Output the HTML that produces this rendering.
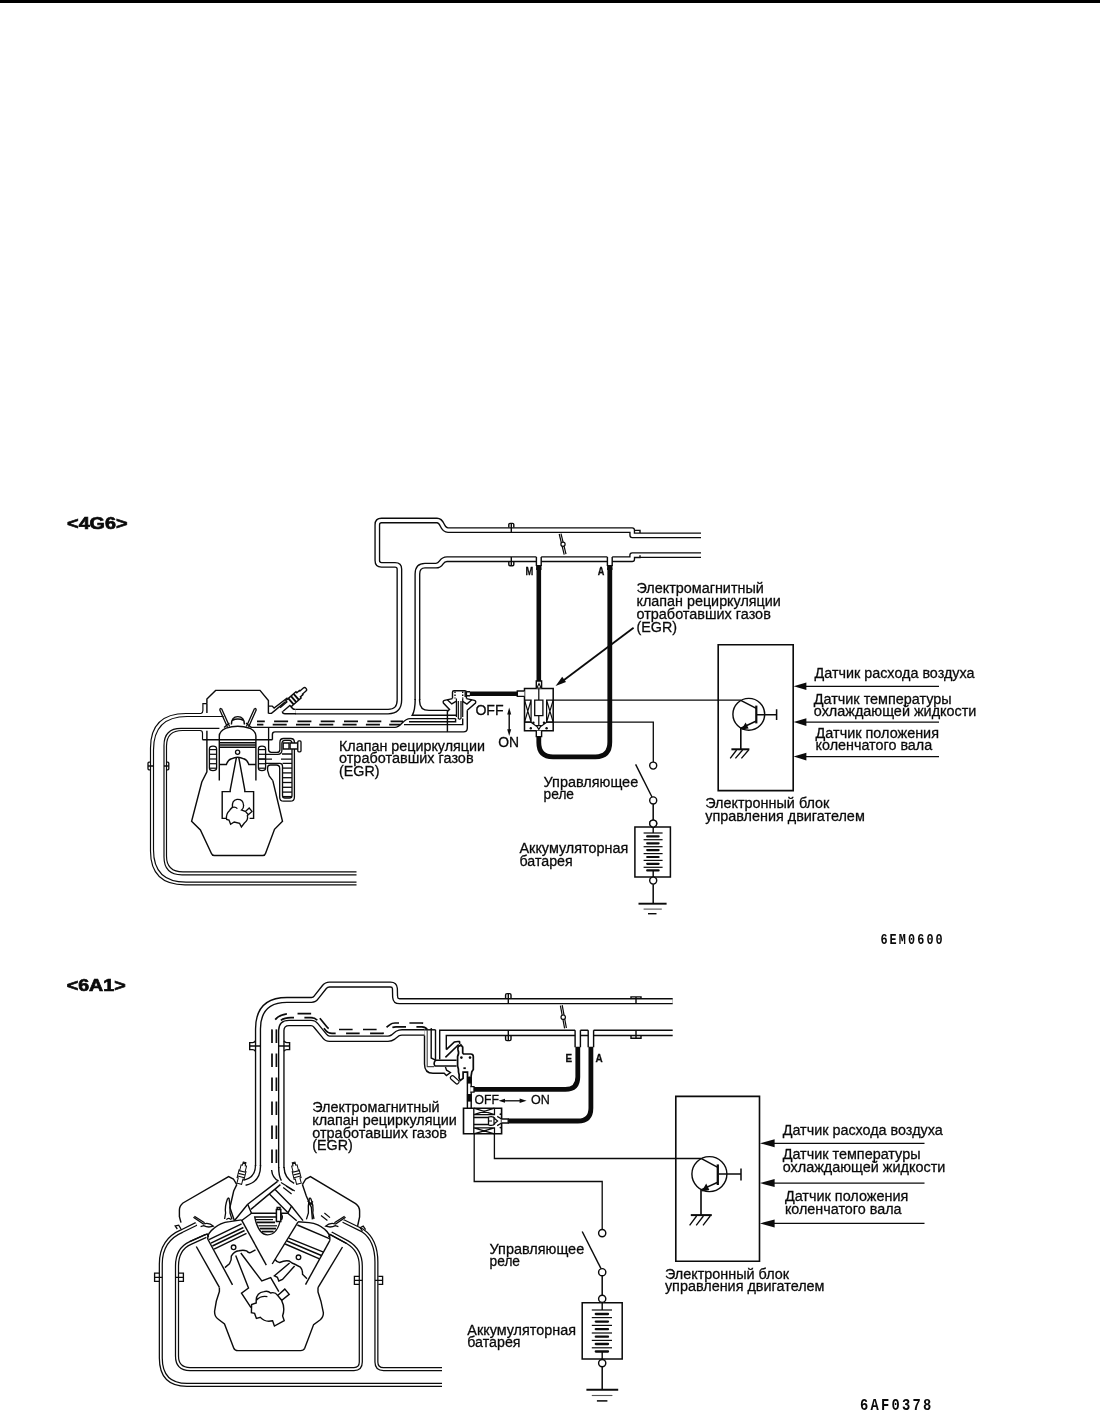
<!DOCTYPE html>
<html><head><meta charset="utf-8"><title>EGR system diagram</title>
<style>
html,body{margin:0;padding:0;background:#fff;}
body{width:1100px;height:1419px;overflow:hidden;font-family:"Liberation Sans",sans-serif;}
svg{display:block;position:absolute;left:0;top:0;will-change:transform;}
#topbar{position:absolute;left:0;top:0;width:1100px;height:3px;background:#000;}
</style></head><body>
<svg width="1100" height="1419" viewBox="0 0 1100 1419" stroke-linecap="butt">
<rect x="0" y="0" width="1100" height="1419" fill="#fff"/>
<g id="walls-black">
<path d="M 295.4,711.55 H 388 Q 399.4,711.6 399.4,700 V 569 Q 399.4,564.8 395,564.8 H 381.5 Q 377.3,564.8 377.3,560.5 V 524.7 Q 377.3,520.5 381.5,520.5 H 437 C 443.5,520.5 441,530.1 448,530.1 H 632.2 V 535.3 H 701" fill="none" stroke="#0b0b0b" stroke-width="5.85" stroke-linejoin="round"/>
<path d="M 417.4,700 V 574 Q 417.4,565.6 425,565.6 H 436 C 442.5,565.6 440,559.2 447,559.2 H 536.4 M 541.2,559.2 H 607.4 M 612.2,559.2 H 632.2 V 555.1 H 701" fill="none" stroke="#0b0b0b" stroke-width="5.95" stroke-linejoin="round"/>
<path d="M 258,1166 V 1029 Q 258,999.9 287,999.9 H 311.5 Q 314.6,999.9 316.2,997.4 L 324.4,987 Q 326.4,984.5 329.4,984.5 H 390.5 Q 394.6,984.5 394.9,988.5 L 395.1,997 Q 395.4,1001.2 399.5,1001.2 H 672.7" fill="none" stroke="#0b0b0b" stroke-width="6.25" stroke-linejoin="round"/>
<path d="M 281.3,1168 V 1030.6 Q 281.3,1023 289,1023 H 311 Q 314.2,1023 316,1025.6 L 324.6,1036 Q 326.6,1038.7 329.6,1038.7 H 388 Q 391,1038.7 393.2,1037 L 397.4,1033.6 Q 399.6,1032.4 402,1032.4 H 424.6" fill="none" stroke="#0b0b0b" stroke-width="6.65" stroke-linejoin="round"/>
<path d="M 196.3,1223.9 L 182,1231 Q 160.8,1240 160.8,1264 V 1358 Q 160.8,1384.9 187,1384.9 H 442" fill="none" stroke="#0b0b0b" stroke-width="4.15" stroke-linejoin="round"/>
<path d="M 205.8,1236 L 190.4,1243 Q 177,1249 177,1266 V 1356 Q 177,1369 190,1369 H 354 Q 360.8,1369 360.8,1362 V 1266 Q 360.8,1250 347.4,1242.2 L 331,1233.3" fill="none" stroke="#0b0b0b" stroke-width="4.25" stroke-linejoin="round"/>
<path d="M 343.2,1221 L 362.8,1230.6 Q 376.4,1240 376.4,1262 V 1362 Q 376.4,1369.1 383.6,1369.1 H 442" fill="none" stroke="#0b0b0b" stroke-width="4.15" stroke-linejoin="round"/>
</g>
<g id="walls-white">
<path d="M 295.4,711.55 H 388 Q 399.4,711.6 399.4,700 V 569 Q 399.4,564.8 395,564.8 H 381.5 Q 377.3,564.8 377.3,560.5 V 524.7 Q 377.3,520.5 381.5,520.5 H 437 C 443.5,520.5 441,530.1 448,530.1 H 632.2 V 535.3 H 701" fill="none" stroke="#fff" stroke-width="3.15" stroke-linejoin="round"/>
<path d="M 417.4,700 V 574 Q 417.4,565.6 425,565.6 H 436 C 442.5,565.6 440,559.2 447,559.2 H 536.4 M 541.2,559.2 H 607.4 M 612.2,559.2 H 632.2 V 555.1 H 701" fill="none" stroke="#fff" stroke-width="3.25" stroke-linejoin="round"/>
<path d="M 258,1166 V 1029 Q 258,999.9 287,999.9 H 311.5 Q 314.6,999.9 316.2,997.4 L 324.4,987 Q 326.4,984.5 329.4,984.5 H 390.5 Q 394.6,984.5 394.9,988.5 L 395.1,997 Q 395.4,1001.2 399.5,1001.2 H 672.7" fill="none" stroke="#fff" stroke-width="3.55" stroke-linejoin="round"/>
<path d="M 281.3,1168 V 1030.6 Q 281.3,1023 289,1023 H 311 Q 314.2,1023 316,1025.6 L 324.6,1036 Q 326.6,1038.7 329.6,1038.7 H 388 Q 391,1038.7 393.2,1037 L 397.4,1033.6 Q 399.6,1032.4 402,1032.4 H 424.6" fill="none" stroke="#fff" stroke-width="3.95" stroke-linejoin="round"/>
<path d="M 196.3,1223.9 L 182,1231 Q 160.8,1240 160.8,1264 V 1358 Q 160.8,1384.9 187,1384.9 H 442" fill="none" stroke="#fff" stroke-width="1.65" stroke-linejoin="round"/>
<path d="M 205.8,1236 L 190.4,1243 Q 177,1249 177,1266 V 1356 Q 177,1369 190,1369 H 354 Q 360.8,1369 360.8,1362 V 1266 Q 360.8,1250 347.4,1242.2 L 331,1233.3" fill="none" stroke="#fff" stroke-width="1.75" stroke-linejoin="round"/>
<path d="M 343.2,1221 L 362.8,1230.6 Q 376.4,1240 376.4,1262 V 1362 Q 376.4,1369.1 383.6,1369.1 H 442" fill="none" stroke="#fff" stroke-width="1.65" stroke-linejoin="round"/>
</g>
<g id="lines">
<text x="67.1" y="528.8" font-size="16.6" font-weight="bold" font-family="'Liberation Sans', sans-serif" textLength="60.4" lengthAdjust="spacingAndGlyphs" fill="#0a0a0a" stroke="#0a0a0a" stroke-width="0.7">&lt;4G6&gt;</text>
<path d="M 508.8,527.6 V 524.6 Q 508.8,523.4 510,523.4 H 512.6 Q 513.8,523.4 513.8,524.6 V 527.6" fill="none" stroke="#0b0b0b" stroke-width="1.42" />
<path d="M 511.3,523.6 V 532" fill="none" stroke="#0b0b0b" stroke-width="1.42" />
<path d="M 508.8,561.4 V 564.6 Q 508.8,565.8 510,565.8 H 512.6 Q 513.8,565.8 513.8,564.6 V 561.4" fill="none" stroke="#0b0b0b" stroke-width="1.42" />
<path d="M 511.3,557 V 565.6" fill="none" stroke="#0b0b0b" stroke-width="1.42" />
<path d="M 634.4,530.4 H 640 V 533" fill="none" stroke="#0b0b0b" stroke-width="1.42" />
<path d="M 634.4,557.6 H 640 V 555.2" fill="none" stroke="#0b0b0b" stroke-width="1.42" />
<path d="M 536.4,557 V 566 M 541.1999999999999,557 V 566" fill="none" stroke="#0b0b0b" stroke-width="1.42" />
<path d="M 536.1,565 H 541.5 V 570 H 536.1 Z" fill="#0b0b0b" stroke="none"/>
<path d="M 607.4,557 V 566 M 612.1999999999999,557 V 566" fill="none" stroke="#0b0b0b" stroke-width="1.42" />
<path d="M 607.1,565 H 612.5 V 570 H 607.1 Z" fill="#0b0b0b" stroke="none"/>
<path d="M 559.2,534 L 564.2,554.6 M 561,533.6 L 566,554.2" fill="none" stroke="#0b0b0b" stroke-width="1.22" />
<circle cx="563" cy="544.3" r="2.1" fill="#fff" stroke="#0b0b0b" stroke-width="1.22"/>
<text x="525.4" y="575.2" font-size="10.5" font-weight="bold" font-family="'Liberation Sans', sans-serif" textLength="7.8" lengthAdjust="spacingAndGlyphs" fill="#0a0a0a"  stroke="#0a0a0a" stroke-width="0.28">M</text>
<text x="597.8" y="575.2" font-size="10.5" font-weight="bold" font-family="'Liberation Sans', sans-serif" textLength="6.6" lengthAdjust="spacingAndGlyphs" fill="#0a0a0a"  stroke="#0a0a0a" stroke-width="0.28">A</text>
<path d="M 538.8,568 V 681" fill="none" stroke="#0b0b0b" stroke-width="4.6" />
<path d="M 609.8,568 V 742 Q 609.8,756.8 595.5,756.8 H 553 Q 538.8,756.8 538.8,742.5 V 736.5" fill="none" stroke="#0b0b0b" stroke-width="4.8" />
<path d="M 469.8,693.7 H 517.4" fill="none" stroke="#0b0b0b" stroke-width="4.5" />
<path d="M 419.6,699 V 701 Q 419.6,710.4 429,710.4 H 447.8" fill="none" stroke="#0b0b0b" stroke-width="1.42" />
<path d="M 415.2,699 C 415.2,708 414.2,712 412.2,715.3 H 456.2" fill="none" stroke="#0b0b0b" stroke-width="1.42" />
<path d="M 251,727.4 H 395 C 401,727.4 403,718.6 410,718.6 H 455.6" fill="none" stroke="#0b0b0b" stroke-width="1.42" />
<path d="M 404,724.6 H 462.7 V 718.6" fill="none" stroke="#0b0b0b" stroke-width="1.42" />
<path d="M 409,721.8 H 455.6 V 718.6" fill="none" stroke="#0b0b0b" stroke-width="1.42" />
<path d="M 257,721.4 H 403" fill="none" stroke="#0b0b0b" stroke-width="1.62" stroke-dasharray="14 9.3" stroke-dashoffset="6.2"/>
<path d="M 257,724.6 H 400" fill="none" stroke="#0b0b0b" stroke-width="1.62" stroke-dasharray="14 9.3" stroke-dashoffset="7.6"/>
<path d="M 272.4,739.8 V 734.4 Q 272.4,731.9 275,731.9 H 463.5 Q 467.3,731.9 467.3,728 V 710.2" fill="none" stroke="#0b0b0b" stroke-width="1.42" />
<path d="M 447.4,711 V 731.9" fill="none" stroke="#0b0b0b" stroke-width="1.42" />
<path d="M 452.5,698.6 V 692.2 Q 452.5,690.7 454,690.7 H 464.8 Q 466.4,690.7 466.4,692.2 V 698.6" fill="none" stroke="#0b0b0b" stroke-width="1.42" />
<path d="M 455,691.5 V 698.6 M 462.7,691.5 V 698.6" fill="none" stroke="#0b0b0b" stroke-width="1.42" stroke-dasharray="1.6 1.4"/>
<path d="M 465.2,691.5 V 697" fill="none" stroke="#0b0b0b" stroke-width="1.42" />
<path d="M 466.4,691.7 H 470 M 466.4,695.8 H 470" fill="none" stroke="#0b0b0b" stroke-width="1.42" />
<path d="M 452.5,698.6 L 444.5,700.4 Q 442.6,701 443.4,703 L 449.5,709.5 L 447.4,711.4" fill="none" stroke="#0b0b0b" stroke-width="1.42" />
<path d="M 466.4,698.6 L 474.4,700.4 Q 476.3,701 475.5,703 L 467.3,710.2" fill="none" stroke="#0b0b0b" stroke-width="1.42" />
<path d="M 447.3,699.8 L 451.8,703.9 L 456,701.4 M 462.7,701.4 L 466.9,704 L 471.8,699.8" fill="none" stroke="#0b0b0b" stroke-width="1.42" />
<path d="M 456.4,698.6 V 717 M 458.3,701 V 718.4 Q 459.6,720 461,718.4 V 701 M 462.7,698.6 V 717" fill="none" stroke="#0b0b0b" stroke-width="1.22" />
<path d="M 524.5,688.6 H 553.2 V 730.7 H 524.5 Z" fill="#fff" stroke="#0b0b0b" stroke-width="1.52" />
<path d="M 536.3,688.6 V 681 H 541.6 V 688.6" fill="#fff" stroke="#0b0b0b" stroke-width="1.42" />
<path d="M 536.9,688 L 539,683.6 L 541.1,688 Z" fill="#fff" stroke="#0b0b0b" stroke-width="1.12" />
<path d="M 524.5,691 H 517.3 V 696.4 H 524.5" fill="#fff" stroke="#0b0b0b" stroke-width="1.42" />
<path d="M 524.5,700.1 H 531.1 V 722.2 H 524.5 M 524.5,700.1 L 531.1,722.2 M 531.1,700.1 L 524.5,722.2" fill="none" stroke="#0b0b0b" stroke-width="1.22" />
<path d="M 553.2,700.1 H 546.6 V 722.2 H 553.2 M 553.2,700.1 L 546.6,722.2 M 546.6,700.1 L 553.2,722.2" fill="none" stroke="#0b0b0b" stroke-width="1.22" />
<path d="M 534.7,700.1 H 542.9 V 715.6 H 534.7 Z" fill="none" stroke="#0b0b0b" stroke-width="1.32" />
<path d="M 538.8,688.6 V 700.1 M 538.8,715.6 V 725.2" fill="none" stroke="#0b0b0b" stroke-width="1.22" />
<path d="M 524.5,722.2 H 531.1 M 546.6,722.2 H 553.2 M 531,722.2 L 536,726 H 541.6 L 546.6,722.2" fill="none" stroke="#0b0b0b" stroke-width="1.22" />
<path d="M 536.4,725.6 L 538.8,729.4 L 541.2,725.6 Z" fill="#fff" stroke="#0b0b0b" stroke-width="1.12" />
<circle cx="533.4" cy="722.8" r="1.2" fill="#0b0b0b" stroke="#0b0b0b" stroke-width="0"/>
<circle cx="544" cy="722.8" r="1.2" fill="#0b0b0b" stroke="#0b0b0b" stroke-width="0"/>
<circle cx="530.8" cy="728.2" r="1.2" fill="#0b0b0b" stroke="#0b0b0b" stroke-width="0"/>
<circle cx="546.6" cy="728.2" r="1.2" fill="#0b0b0b" stroke="#0b0b0b" stroke-width="0"/>
<path d="M 536.3,730.7 V 736.6 H 541.6 V 730.7" fill="#fff" stroke="#0b0b0b" stroke-width="1.42" />
<path d="M 633.6,627.8 L 560,683" fill="none" stroke="#0b0b0b" stroke-width="1.82" />
<path d="M 555.6,686 L 562.2,676.8 L 566,682 Z" fill="#0b0b0b" stroke="none"/>
<text x="475.4" y="714.6" font-size="14.2" font-weight="normal" font-family="'Liberation Sans', sans-serif" textLength="28.2" lengthAdjust="spacingAndGlyphs" fill="#0a0a0a"  stroke="#0a0a0a" stroke-width="0.28">OFF</text>
<text x="498.2" y="746.9" font-size="13.8" font-weight="normal" font-family="'Liberation Sans', sans-serif" textLength="20.8" lengthAdjust="spacingAndGlyphs" fill="#0a0a0a"  stroke="#0a0a0a" stroke-width="0.28">ON</text>
<path d="M 509.2,712 V 732" fill="none" stroke="#0b0b0b" stroke-width="1.42" />
<path d="M 509.2,707.6 L 507.2,714.4 H 511.2 Z" fill="#0b0b0b" stroke="none"/>
<path d="M 509.2,736 L 507.2,729.2 H 511.2 Z" fill="#0b0b0b" stroke="none"/>
<path d="M 553.2,700.2 H 741" fill="none" stroke="#0b0b0b" stroke-width="1.32" />
<path d="M 553.2,722.2 H 653.3 V 762" fill="none" stroke="#0b0b0b" stroke-width="1.32" />
<circle cx="653.2" cy="765.6" r="3.5" fill="#fff" stroke="#0b0b0b" stroke-width="1.42"/>
<path d="M 635.6,764.4 L 652,797" fill="none" stroke="#0b0b0b" stroke-width="1.42" />
<circle cx="653.2" cy="800.4" r="3.5" fill="#fff" stroke="#0b0b0b" stroke-width="1.42"/>
<path d="M 653.2,804 V 820" fill="none" stroke="#0b0b0b" stroke-width="1.52" />
<circle cx="653.2" cy="823.6" r="3.5" fill="#fff" stroke="#0b0b0b" stroke-width="1.42"/>
<path d="M 634.9,826.9 H 670.4 V 876.9 H 634.9 Z" fill="none" stroke="#0b0b0b" stroke-width="1.52" />
<circle cx="653.2" cy="823.6" r="3.5" fill="#fff" stroke="#0b0b0b" stroke-width="1.42"/>
<path d="M 653.2,827 V 833 M 653.2,870 V 877" fill="none" stroke="#0b0b0b" stroke-width="1.42" />
<path d="M 643.6,833 H 662.6" fill="none" stroke="#0b0b0b" stroke-width="1.22" />
<path d="M 643.6,839.7 H 662.6" fill="none" stroke="#0b0b0b" stroke-width="1.22" />
<path d="M 643.6,846.7 H 662.6" fill="none" stroke="#0b0b0b" stroke-width="1.22" />
<path d="M 643.6,853.6 H 662.6" fill="none" stroke="#0b0b0b" stroke-width="1.22" />
<path d="M 643.6,860.4 H 662.6" fill="none" stroke="#0b0b0b" stroke-width="1.22" />
<path d="M 643.6,867.3 H 662.6" fill="none" stroke="#0b0b0b" stroke-width="1.22" />
<path d="M 647.2,836.4 H 658.6" fill="none" stroke="#0b0b0b" stroke-width="2.2" stroke-linecap="round"/>
<path d="M 647.2,843.3 H 658.6" fill="none" stroke="#0b0b0b" stroke-width="2.2" stroke-linecap="round"/>
<path d="M 647.2,850.1 H 658.6" fill="none" stroke="#0b0b0b" stroke-width="2.2" stroke-linecap="round"/>
<path d="M 647.2,857 H 658.6" fill="none" stroke="#0b0b0b" stroke-width="2.2" stroke-linecap="round"/>
<path d="M 647.2,863.8 H 658.6" fill="none" stroke="#0b0b0b" stroke-width="2.2" stroke-linecap="round"/>
<path d="M 647.2,870.4 H 658.6" fill="none" stroke="#0b0b0b" stroke-width="2.2" stroke-linecap="round"/>
<circle cx="653.2" cy="880.6" r="3.5" fill="#fff" stroke="#0b0b0b" stroke-width="1.42"/>
<path d="M 653.2,884.2 V 903.6" fill="none" stroke="#0b0b0b" stroke-width="1.52" />
<path d="M 638.5,903.7 H 666.6" fill="none" stroke="#0b0b0b" stroke-width="1.92" />
<path d="M 643.6,909.1 H 661.8" fill="none" stroke="#555" stroke-width="1.12" />
<path d="M 648,913.7 H 656.5" fill="none" stroke="#0b0b0b" stroke-width="1.42" />
<path d="M 718.2,644.7 H 793.2 V 790.6 H 718.2 Z" fill="none" stroke="#0b0b0b" stroke-width="1.62" />
<circle cx="748.8" cy="714.3" r="15.9" fill="none" stroke="#0b0b0b" stroke-width="1.42"/>
<path d="M 740.8,700.4 L 756.3,708.4" fill="none" stroke="#0b0b0b" stroke-width="1.52" />
<path d="M 756.3,705.6 V 723.4" fill="none" stroke="#0b0b0b" stroke-width="2.2" />
<path d="M 756.3,721 L 740.8,728.2" fill="none" stroke="#0b0b0b" stroke-width="1.52" />
<path d="M 741.4,729.6 L 745.6,722.4 L 748.6,728.4 Z" fill="#0b0b0b" stroke="none"/>
<path d="M 757,714.8 H 776.6 M 776.6,709.2 V 719.9" fill="none" stroke="#0b0b0b" stroke-width="1.52" />
<path d="M 740.8,728 V 749.2" fill="none" stroke="#0b0b0b" stroke-width="1.62" />
<path d="M 731.4,749.3 H 749.4" fill="none" stroke="#0b0b0b" stroke-width="2.0" />
<path d="M 736.6,750 L 730.2,758.4 M 742.6,750 L 735.4,758.4 M 748.6,750 L 741.4,758.4" fill="none" stroke="#0b0b0b" stroke-width="1.32" />
<path d="M 800,686.3 H 939" fill="none" stroke="#0b0b0b" stroke-width="1.17" />
<path d="M 793.6,686.3 L 806.4,682.5 V 690.0999999999999 Z" fill="#0b0b0b" stroke="none"/>
<path d="M 800,722.1 H 939" fill="none" stroke="#0b0b0b" stroke-width="1.17" />
<path d="M 793.6,722.1 L 806.4,718.3000000000001 V 725.9 Z" fill="#0b0b0b" stroke="none"/>
<path d="M 800,756.6 H 939" fill="none" stroke="#0b0b0b" stroke-width="1.17" />
<path d="M 793.6,756.6 L 806.4,752.8000000000001 V 760.4 Z" fill="#0b0b0b" stroke="none"/>
<text x="636.5" y="592.9" font-size="14.35" font-weight="normal" font-family="'Liberation Sans', sans-serif" textLength="127.3" lengthAdjust="spacingAndGlyphs" fill="#0a0a0a"  stroke="#0a0a0a" stroke-width="0.28">Электромагнитный</text>
<text x="636.5" y="606.1" font-size="14.35" font-weight="normal" font-family="'Liberation Sans', sans-serif" textLength="144.3" lengthAdjust="spacingAndGlyphs" fill="#0a0a0a"  stroke="#0a0a0a" stroke-width="0.28">клапан рециркуляции</text>
<text x="636.5" y="619.2" font-size="14.35" font-weight="normal" font-family="'Liberation Sans', sans-serif" textLength="134.3" lengthAdjust="spacingAndGlyphs" fill="#0a0a0a"  stroke="#0a0a0a" stroke-width="0.28">отработавших газов</text>
<text x="636.5" y="632.3" font-size="14.35" font-weight="normal" font-family="'Liberation Sans', sans-serif" textLength="40.6" lengthAdjust="spacingAndGlyphs" fill="#0a0a0a"  stroke="#0a0a0a" stroke-width="0.28">(EGR)</text>
<text x="814.5" y="677.9" font-size="14.35" font-weight="normal" font-family="'Liberation Sans', sans-serif" textLength="160.0" lengthAdjust="spacingAndGlyphs" fill="#0a0a0a"  stroke="#0a0a0a" stroke-width="0.28">Датчик расхода воздуха</text>
<text x="813.8" y="703.6" font-size="14.35" font-weight="normal" font-family="'Liberation Sans', sans-serif" textLength="137.8" lengthAdjust="spacingAndGlyphs" fill="#0a0a0a"  stroke="#0a0a0a" stroke-width="0.28">Датчик температуры</text>
<text x="813.8" y="715.6" font-size="14.35" font-weight="normal" font-family="'Liberation Sans', sans-serif" textLength="162.6" lengthAdjust="spacingAndGlyphs" fill="#0a0a0a"  stroke="#0a0a0a" stroke-width="0.28">охлаждающей жидкости</text>
<text x="815.6" y="737.6" font-size="14.35" font-weight="normal" font-family="'Liberation Sans', sans-serif" textLength="123.4" lengthAdjust="spacingAndGlyphs" fill="#0a0a0a"  stroke="#0a0a0a" stroke-width="0.28">Датчик положения</text>
<text x="815.6" y="749.6" font-size="14.35" font-weight="normal" font-family="'Liberation Sans', sans-serif" textLength="116.6" lengthAdjust="spacingAndGlyphs" fill="#0a0a0a"  stroke="#0a0a0a" stroke-width="0.28">коленчатого вала</text>
<text x="339.0" y="750.7" font-size="14.35" font-weight="normal" font-family="'Liberation Sans', sans-serif" textLength="146.0" lengthAdjust="spacingAndGlyphs" fill="#0a0a0a"  stroke="#0a0a0a" stroke-width="0.28">Клапан рециркуляции</text>
<text x="339.0" y="763.4" font-size="14.35" font-weight="normal" font-family="'Liberation Sans', sans-serif" textLength="134.6" lengthAdjust="spacingAndGlyphs" fill="#0a0a0a"  stroke="#0a0a0a" stroke-width="0.28">отработавших газов</text>
<text x="339.0" y="776.1" font-size="14.35" font-weight="normal" font-family="'Liberation Sans', sans-serif" textLength="40.5" lengthAdjust="spacingAndGlyphs" fill="#0a0a0a"  stroke="#0a0a0a" stroke-width="0.28">(EGR)</text>
<text x="543.6" y="786.7" font-size="14.35" font-weight="normal" font-family="'Liberation Sans', sans-serif" textLength="94.6" lengthAdjust="spacingAndGlyphs" fill="#0a0a0a"  stroke="#0a0a0a" stroke-width="0.28">Управляющее</text>
<text x="543.6" y="799.0" font-size="14.35" font-weight="normal" font-family="'Liberation Sans', sans-serif" textLength="30.4" lengthAdjust="spacingAndGlyphs" fill="#0a0a0a"  stroke="#0a0a0a" stroke-width="0.28">реле</text>
<text x="519.5" y="853.1" font-size="14.35" font-weight="normal" font-family="'Liberation Sans', sans-serif" textLength="108.7" lengthAdjust="spacingAndGlyphs" fill="#0a0a0a"  stroke="#0a0a0a" stroke-width="0.28">Аккумуляторная</text>
<text x="519.5" y="865.5" font-size="14.35" font-weight="normal" font-family="'Liberation Sans', sans-serif" textLength="53.2" lengthAdjust="spacingAndGlyphs" fill="#0a0a0a"  stroke="#0a0a0a" stroke-width="0.28">батарея</text>
<text x="705.2" y="808.2" font-size="14.35" font-weight="normal" font-family="'Liberation Sans', sans-serif" textLength="124.2" lengthAdjust="spacingAndGlyphs" fill="#0a0a0a"  stroke="#0a0a0a" stroke-width="0.28">Электронный блок</text>
<text x="705.2" y="820.5" font-size="14.35" font-weight="normal" font-family="'Liberation Sans', sans-serif" textLength="159.6" lengthAdjust="spacingAndGlyphs" fill="#0a0a0a"  stroke="#0a0a0a" stroke-width="0.28">управления двигателем</text>
<text transform="translate(880.4,944) scale(0.85,1)" font-family="'Liberation Mono', monospace" font-weight="bold" font-size="13.9" letter-spacing="2.5" fill="#0a0a0a">6EM0600</text>
<path d="M 201,713.5 Q 202.9,713 202.9,710.6 V 703.6 H 206.9 M 201,713.5 H 186 Q 150.5,713.5 150.5,748 V 851 Q 150.5,884.8 185,884.8 H 356.5" fill="none" stroke="#0b0b0b" stroke-width="1.17" />
<path d="M 223.6,716.5 H 187 Q 153.5,716.5 153.5,750 V 850 Q 153.5,882.1 186,882.1 H 356.5" fill="none" stroke="#0b0b0b" stroke-width="1.17" />
<path d="M 219.4,728.4 H 181 Q 164,728.4 164,745.5 V 857 Q 164,874.8 182,874.8 H 356.5" fill="none" stroke="#0b0b0b" stroke-width="1.17" />
<path d="M 202.5,739.8 V 733 Q 202.5,730.5 200,730.5 H 182.6 Q 166.5,730.5 166.5,746 V 856 Q 166.5,871.9 183,871.9 H 356.5" fill="none" stroke="#0b0b0b" stroke-width="1.17" />
<path d="M 150.4,762.2 H 149 Q 148,762.2 148,763.2 V 768.8 Q 148,769.8 149,769.8 H 150.4" fill="none" stroke="#0b0b0b" stroke-width="1.32" />
<path d="M 166.6,762.2 H 167.8 Q 168.8,762.2 168.8,763.2 V 768.8 Q 168.8,769.8 167.8,769.8 H 166.6" fill="none" stroke="#0b0b0b" stroke-width="1.32" />
<path d="M 148,766 H 153.4 M 164,766 H 168.8" fill="none" stroke="#0b0b0b" stroke-width="1.32" />
<path d="M 206.9,703.5 V 699.1 L 215.6,690.4 H 260 L 268.4,700.5 V 713.4" fill="none" stroke="#0b0b0b" stroke-width="1.42" />
<path d="M 202.5,739.8 H 272.4" fill="none" stroke="#0b0b0b" stroke-width="1.42" />
<path d="M 206.9,703.5 V 713 M 206.9,730.8 V 771.8 L 201.8,782 L 191.6,821.3 L 200.4,830 L 211.3,853.3 Q 212,855.5 214.4,855.5 H 262.9 Q 265,855.5 265.6,853.3 L 274.5,829.3 L 282.5,821.3 L 272.8,780.7" fill="none" stroke="#0b0b0b" stroke-width="1.42" />
<path d="M 219.6,709.6 L 227.4,727 M 221.6,708.8 L 229.6,726.4" fill="none" stroke="#0b0b0b" stroke-width="1.32" />
<path d="M 256.4,709.6 L 248.6,727 M 254.4,708.8 L 246.4,726.4" fill="none" stroke="#0b0b0b" stroke-width="1.32" />
<path d="M 219.6,709.6 Q 220.4,708 221.6,708.8 M 256.4,709.6 Q 255.6,708 254.4,708.8" fill="none" stroke="#0b0b0b" stroke-width="1.32" />
<path d="M 231.4,724.4 Q 231.4,716.6 237.8,716.6 Q 244.4,716.6 244.4,724.4 M 232.4,720.4 Q 237.8,717.6 243.4,720.4" fill="none" stroke="#0b0b0b" stroke-width="1.42" />
<path d="M 219.3,780.4 V 736 Q 219.3,731.4 226,728.2 Q 237.6,724.4 249.8,728.2 Q 255.9,731.4 255.9,736 V 780.4" fill="none" stroke="#0b0b0b" stroke-width="1.42" />
<path d="M 224,727.4 L 229.4,723 M 251.4,727.4 L 246,723" fill="none" stroke="#0b0b0b" stroke-width="1.32" />
<path d="M 219.3,742.7 H 255.9 M 219.3,745 H 255.9 M 219.3,747.2 H 255.9" fill="none" stroke="#0b0b0b" stroke-width="1.42" />
<circle cx="237.6" cy="752.2" r="2.1" fill="#fff" stroke="#0b0b0b" stroke-width="1.32"/>
<path d="M 219.3,764.5 H 226.4 Q 228,759.8 231.4,758.8 Q 237.6,755.6 243.8,758.8 Q 247.2,759.8 248.8,764.5 H 255.9" fill="none" stroke="#0b0b0b" stroke-width="1.42" />
<path d="M 236.4,757.6 L 230.2,790 V 791.6 H 222.2 V 818.4 H 226.8 M 238.8,757.6 L 244.8,790 V 791.6 H 253.6 V 818.4 H 249.6" fill="none" stroke="#0b0b0b" stroke-width="1.42" />
<path d="M 232.4,807.4 Q 231.6,800.6 237,799.4 Q 243.4,799 243.6,805.4 Q 243.8,808.4 241.6,810 L 245.4,811.4 L 249.2,808 L 252,811.4 L 247.4,815.6 Q 248.4,820 244.4,823 L 241.4,827 L 239.6,823.4 L 234.2,822 L 230.6,824.2 L 229,820 L 226.6,819.4 Q 225.6,814 229.6,810.4 Q 231,808.4 232.4,807.4 Z M 232.4,807.4 Q 235.4,806.4 237.4,808.6 M 245.4,811.4 L 248.6,815" fill="none" stroke="#0b0b0b" stroke-width="1.32" />
<path d="M 209.4,749 Q 209.4,746.2 213.0,746.2 Q 216.6,746.2 216.6,749 V 768 Q 216.6,770.6 213.0,770.6 Q 209.4,770.6 209.4,768 Z" fill="none" stroke="#0b0b0b" stroke-width="1.32" />
<path d="M 209.4,749.6 H 216.6" fill="none" stroke="#0b0b0b" stroke-width="1.22" />
<path d="M 209.4,754.3 H 216.6" fill="none" stroke="#0b0b0b" stroke-width="1.22" />
<path d="M 209.4,759 H 216.6" fill="none" stroke="#0b0b0b" stroke-width="1.22" />
<path d="M 209.4,763.7 H 216.6" fill="none" stroke="#0b0b0b" stroke-width="1.22" />
<path d="M 209.4,768.2 H 216.6" fill="none" stroke="#0b0b0b" stroke-width="1.22" />
<path d="M 258.4,749 Q 258.4,746.2 262.0,746.2 Q 265.6,746.2 265.6,749 V 768 Q 265.6,770.6 262.0,770.6 Q 258.4,770.6 258.4,768 Z" fill="none" stroke="#0b0b0b" stroke-width="1.32" />
<path d="M 258.4,749.6 H 265.6" fill="none" stroke="#0b0b0b" stroke-width="1.22" />
<path d="M 258.4,754.3 H 265.6" fill="none" stroke="#0b0b0b" stroke-width="1.22" />
<path d="M 258.4,759 H 265.6" fill="none" stroke="#0b0b0b" stroke-width="1.22" />
<path d="M 258.4,763.7 H 265.6" fill="none" stroke="#0b0b0b" stroke-width="1.22" />
<path d="M 258.4,768.2 H 265.6" fill="none" stroke="#0b0b0b" stroke-width="1.22" />
<path d="M 268.4,706.1 H 272.2 L 274.1,708 L 287.5,697.8" fill="none" stroke="#0b0b0b" stroke-width="1.42" />
<path d="M 268.4,713.4 H 271.5 L 285.6,701.6" fill="none" stroke="#0b0b0b" stroke-width="1.42" />
<path d="M 282.4,711.2 Q 282.4,713.75 285,713.75 H 296" fill="none" stroke="#0b0b0b" stroke-width="1.42" />
<path d="M 291.3,705.6 Q 291.6,709.4 295.4,709.4" fill="none" stroke="#0b0b0b" stroke-width="1.42" />
<g transform="translate(281.6,709.6) rotate(-41)"><path d="M 0,-2.3 H 9 V -4 H 22.5 V -2.7 H 26 V -2 H 30.6 Q 32.4,-2 32.4,0 Q 32.4,2 30.6,2 H 26 V 2.7 H 22.5 V 4 H 9 V 2.3 H 0" fill="#fff" stroke="#0b0b0b" stroke-width="1.35"/><path d="M 12.4,-4 V 4 M 15.9,-4 V 4 M 19.4,-4 V 4" stroke="#0b0b0b" stroke-width="1.9" fill="none"/></g>
<path d="M 268.6,727.4 V 749.6 Q 268.6,752.4 271.4,752.4 H 276.9 Q 279.9,752.4 279.9,749.4 V 742.2 Q 279.9,738.5 283.6,738.5 H 290.6 Q 294.4,738.5 294.4,742.2 V 797.2 Q 294.4,801.2 290.4,801.2 H 283.6 Q 279.7,801.2 279.7,797.2 V 768.4 Q 279.7,765 276.4,765 H 270.4 Q 267.6,765 267.6,767.8 V 770.5 L 269.2,775.9 L 272.8,780.7" fill="none" stroke="#0b0b0b" stroke-width="1.32" />
<path d="M 265.6,754.4 H 277.6 Q 281.9,754.4 281.9,750 V 743.6 Q 281.9,740.4 285,740.4 H 289.2 Q 292,740.4 292,743.4 V 795.4 Q 292,798 289.4,798 H 285 Q 282.5,798 282.5,795.4 V 766 Q 282.5,763.3 279.6,763.3 H 265.6" fill="none" stroke="#0b0b0b" stroke-width="1.32" />
<path d="M 258.6,759.1 H 272 M 281,759.1 H 291.8 M 282,754 H 292 M 282.6,763.3 H 292" fill="none" stroke="#0b0b0b" stroke-width="1.32" />
<path d="M 282.6,768.1 H 291.9" fill="none" stroke="#0b0b0b" stroke-width="1.32" />
<path d="M 282.6,772.9 H 291.9" fill="none" stroke="#0b0b0b" stroke-width="1.32" />
<path d="M 282.6,777.7 H 291.9" fill="none" stroke="#0b0b0b" stroke-width="1.32" />
<path d="M 282.6,782.5 H 291.9" fill="none" stroke="#0b0b0b" stroke-width="1.32" />
<path d="M 282.6,787.3 H 291.9" fill="none" stroke="#0b0b0b" stroke-width="1.32" />
<path d="M 282.6,792.1 H 291.9" fill="none" stroke="#0b0b0b" stroke-width="1.32" />
<path d="M 282.6,796.6 H 291.9" fill="none" stroke="#0b0b0b" stroke-width="1.32" />
<path d="M 283.2,743 H 289 V 749 H 283.2 Z" fill="#fff" stroke="#0b0b0b" stroke-width="1.32" />
<path d="M 290.1,743 H 297.6 V 749 H 290.1 Z" fill="#fff" stroke="#0b0b0b" stroke-width="1.32" />
<path d="M 298.8,740.9 H 300 Q 301,740.9 301,742 V 750.8 Q 301,751.9 300,751.9 H 298.8 Q 297.8,751.9 297.8,750.8 V 742 Q 297.8,740.9 298.8,740.9 Z" fill="#fff" stroke="#0b0b0b" stroke-width="1.32" />
<text x="66.8" y="991.2" font-size="16.6" font-weight="bold" font-family="'Liberation Sans', sans-serif" textLength="58.8" lengthAdjust="spacingAndGlyphs" fill="#0a0a0a" stroke="#0a0a0a" stroke-width="0.7">&lt;6A1&gt;</text>
<path d="M 424.6,1029.8 H 435.5" fill="none" stroke="#0b0b0b" stroke-width="1.42" />
<path d="M 255.4,1040.9 Q 254.6,1042.6 252.6,1042.6 H 249.7 V 1049.6 H 252.6 Q 254.6,1049.6 255.2,1051.3 M 249.7,1046 H 260.4" fill="none" stroke="#0b0b0b" stroke-width="1.42" />
<path d="M 284,1040.9 Q 284.8,1042.6 286.8,1042.6 H 289.6 V 1049.6 H 286.8 Q 284.8,1049.6 284.2,1051.3 M 278.7,1046 H 289.6" fill="none" stroke="#0b0b0b" stroke-width="1.42" />
<path d="M 439.7,1059.6 V 1030.3 H 575.1 M 580.4,1030.3 H 588.2 M 593.6,1030.3 H 672.7" fill="none" stroke="#0b0b0b" stroke-width="1.42" />
<path d="M 446.3,1049.6 V 1035.5 H 575.1 M 580.4,1035.5 H 588.2 M 593.6,1035.5 H 672.7" fill="none" stroke="#0b0b0b" stroke-width="1.42" />
<path d="M 575.1,1030.3 V 1047.3 M 580.4,1030.3 V 1047.3 M 588.2,1030.3 V 1047.3 M 593.6,1030.3 V 1047.3" fill="none" stroke="#0b0b0b" stroke-width="1.42" />
<path d="M 505.6,998.6 V 995 Q 505.6,993.6 507,993.6 H 509.6 Q 511,993.6 511,995 V 998.6 M 508.3,994 V 1003.6" fill="none" stroke="#0b0b0b" stroke-width="1.42" />
<path d="M 505.6,1035.6 V 1039.2 Q 505.6,1040.6 507,1040.6 H 509.6 Q 511,1040.6 511,1039.2 V 1035.6 M 508.3,1030.4 V 1040.2" fill="none" stroke="#0b0b0b" stroke-width="1.42" />
<path d="M 631,998.7 V 996.9 H 641 V 998.7 M 636,996.9 V 1003.6" fill="none" stroke="#0b0b0b" stroke-width="1.42" />
<path d="M 631,1035.5 V 1038.2 H 641 V 1035.5 M 636,1030.3 V 1038.2" fill="none" stroke="#0b0b0b" stroke-width="1.42" />
<path d="M 560.4,1005.6 L 564.6,1028.4 M 562.2,1005.2 L 566.4,1028" fill="none" stroke="#0b0b0b" stroke-width="1.22" />
<circle cx="563.2" cy="1017.2" r="2.2" fill="#fff" stroke="#0b0b0b" stroke-width="1.22"/>
<text x="565.4" y="1061.8" font-size="11.6" font-weight="bold" font-family="'Liberation Sans', sans-serif" textLength="6.6" lengthAdjust="spacingAndGlyphs" fill="#0a0a0a"  stroke="#0a0a0a" stroke-width="0.28">E</text>
<text x="595.6" y="1061.8" font-size="11.6" font-weight="bold" font-family="'Liberation Sans', sans-serif" textLength="7.2" lengthAdjust="spacingAndGlyphs" fill="#0a0a0a"  stroke="#0a0a0a" stroke-width="0.28">A</text>
<path d="M 272,1168 V 1031 Q 272,1013.6 291,1013.6 H 312 Q 316,1013.6 318,1016 L 327,1027 Q 329,1029.5 333,1029.5 H 381 Q 384,1029.5 386,1027.6 L 390,1024.6 Q 392,1023 395,1023 H 421 Q 431.3,1023 431.3,1030" fill="none" stroke="#0b0b0b" stroke-width="1.72" stroke-dasharray="13.6 10.4" stroke-dashoffset="19.1"/>
<path d="M 276.4,1168 V 1031 Q 276.4,1017.7 291,1017.7 H 311 Q 315,1017.7 317,1020 L 326,1030.8 Q 328,1033.3 332,1033.3 H 382 Q 385,1033.3 387,1031.6 L 391,1028.4 Q 393,1026.8 396,1026.8 H 422 Q 426,1027 427.4,1029.8" fill="none" stroke="#0b0b0b" stroke-width="1.72" stroke-dasharray="13.6 10.4" stroke-dashoffset="19.1"/>
<path d="M 424.5,1035.5 V 1064 Q 424.5,1073.3 433,1073.3 H 444.2 L 446.4,1075.5 L 450.4,1072.5 L 446.6,1070.2 L 445.4,1067" fill="none" stroke="#0b0b0b" stroke-width="1.42" />
<path d="M 427.2,1029.8 V 1066.6 H 434" fill="none" stroke="#444" stroke-width="1.12" />
<path d="M 431.2,1029.8 V 1058 L 435.5,1060.2 V 1029.8" fill="none" stroke="#0b0b0b" stroke-width="1.42" />
<path d="M 435.5,1060.2 H 456.6 M 456.6,1066 H 435 Q 433,1063.2 435.5,1060.2" fill="none" stroke="#0b0b0b" stroke-width="1.62" />
<path d="M 446.3,1049.6 L 454.4,1042 Q 457,1041.2 459.5,1041.6 L 459.8,1043.8 M 445.4,1057.3 L 458.7,1044.5" fill="none" stroke="#0b0b0b" stroke-width="1.62" />
<path d="M 457.6,1066 V 1056.5 Q 459.4,1053 458,1050 Q 457.6,1047.4 458.4,1046.4 L 460.9,1044.9 L 462.7,1047.1 V 1052.9 L 463.5,1054 H 470.6 Q 473.3,1054 473.3,1056.6 V 1069.6 L 471.8,1071.8 L 471.1,1076.2 M 467.5,1076.2 V 1072.2 H 463.1 V 1078.4 L 460.2,1080.5 Q 458.4,1078 459.2,1075 Q 458.2,1072 458.4,1069 L 457.6,1066" fill="#fff" stroke="#0b0b0b" stroke-width="1.72" />
<circle cx="461.4" cy="1057.6" r="1.3" fill="#0b0b0b" stroke="#0b0b0b" stroke-width="0"/>
<circle cx="470" cy="1057.6" r="1.3" fill="#0b0b0b" stroke="#0b0b0b" stroke-width="0"/>
<path d="M 463.4,1068.2 H 465.8" fill="none" stroke="#0b0b0b" stroke-width="1.8" />
<g transform="translate(454.7,1079.8) rotate(42)"><rect x="-5" y="-2" width="10" height="4" rx="1.6" fill="#fff" stroke="#0b0b0b" stroke-width="1.2"/></g>
<path d="M 467.4,1076 V 1108.2 M 471.2,1076 V 1108.2" fill="none" stroke="#0b0b0b" stroke-width="1.42" />
<path d="M 466.9,1076.5 H 471.7 V 1083.6 H 466.9 Z" fill="#0b0b0b" stroke="none"/>
<path d="M 466.9,1094 H 471.7 V 1101.6 H 466.9 Z" fill="#0b0b0b" stroke="none"/>
<path d="M 577.8,1046.8 V 1077 Q 577.8,1089.4 565.4,1089.4 H 472" fill="none" stroke="#0b0b0b" stroke-width="4.8" />
<path d="M 590.9,1046.8 V 1108 Q 590.9,1121 578,1121 H 508" fill="none" stroke="#0b0b0b" stroke-width="4.8" />
<path d="M 470.4,1086.6 H 474 V 1092.2 H 470.4" fill="#fff" stroke="#0b0b0b" stroke-width="1.32" />
<path d="M 463.5,1108.2 H 501.6 V 1133.8 H 463.5 Z" fill="#fff" stroke="#0b0b0b" stroke-width="1.62" />
<path d="M 473.8,1108.2 V 1133.8" fill="none" stroke="#0b0b0b" stroke-width="1.32" />
<path d="M 473.8,1114.7 H 494.5 V 1108.2 M 473.8,1108.2 L 494.5,1114.7 M 494.5,1108.2 L 473.8,1114.7" fill="none" stroke="#0b0b0b" stroke-width="1.22" />
<path d="M 473.8,1127.8 H 494.5 V 1133.8 M 473.8,1127.8 L 494.5,1133.8 M 494.5,1127.8 L 473.8,1133.8" fill="none" stroke="#0b0b0b" stroke-width="1.22" />
<path d="M 473.8,1117.5 H 488.5 V 1124.5 H 473.8" fill="none" stroke="#0b0b0b" stroke-width="1.32" />
<path d="M 488.5,1117 Q 493,1115.6 495,1118.4 M 488.5,1125 Q 493,1126.4 495,1123.6 M 488.5,1121 H 492" fill="none" stroke="#0b0b0b" stroke-width="1.22" />
<path d="M 494,1118 L 497.6,1121 L 494,1124 Z" fill="#fff" stroke="#0b0b0b" stroke-width="1.22" />
<path d="M 497.2,1116.4 L 501.6,1119 M 497.2,1125.6 L 501.6,1123" fill="none" stroke="#0b0b0b" stroke-width="1.22" />
<circle cx="500.4" cy="1114.2" r="0.9" fill="#0b0b0b" stroke="#0b0b0b" stroke-width="0"/>
<circle cx="500.4" cy="1127.6" r="0.9" fill="#0b0b0b" stroke="#0b0b0b" stroke-width="0"/>
<path d="M 501.6,1119 H 508.2 V 1123 H 501.6" fill="#fff" stroke="#0b0b0b" stroke-width="1.32" />
<text x="474.6" y="1103.6" font-size="12.6" font-weight="normal" font-family="'Liberation Sans', sans-serif" textLength="24.4" lengthAdjust="spacingAndGlyphs" fill="#0a0a0a"  stroke="#0a0a0a" stroke-width="0.28">OFF</text>
<text x="530.9" y="1103.6" font-size="12.6" font-weight="normal" font-family="'Liberation Sans', sans-serif" textLength="18.8" lengthAdjust="spacingAndGlyphs" fill="#0a0a0a"  stroke="#0a0a0a" stroke-width="0.28">ON</text>
<path d="M 503,1100.8 H 521" fill="none" stroke="#0b0b0b" stroke-width="1.32" />
<path d="M 498.6,1100.8 L 505,1098.8 V 1102.8 Z" fill="#0b0b0b" stroke="none"/>
<path d="M 526.6,1100.8 L 519.6,1098.6 V 1103 Z" fill="#0b0b0b" stroke="none"/>
<path d="M 494.4,1133.8 V 1158.5 H 701" fill="none" stroke="#0b0b0b" stroke-width="1.32" />
<path d="M 474.2,1133.8 V 1181.5 H 602.2 V 1229.4" fill="none" stroke="#0b0b0b" stroke-width="1.32" />
<circle cx="602.2" cy="1233.1" r="3.6" fill="#fff" stroke="#0b0b0b" stroke-width="1.42"/>
<path d="M 582.2,1231.5 L 601,1268.6" fill="none" stroke="#0b0b0b" stroke-width="1.42" />
<circle cx="602.2" cy="1272.2" r="3.6" fill="#fff" stroke="#0b0b0b" stroke-width="1.42"/>
<path d="M 602.2,1276 V 1295" fill="none" stroke="#0b0b0b" stroke-width="1.52" />
<path d="M 582.2,1302.7 H 622.2 V 1359.1 H 582.2 Z" fill="none" stroke="#0b0b0b" stroke-width="1.52" />
<circle cx="602.2" cy="1298.8" r="3.6" fill="#fff" stroke="#0b0b0b" stroke-width="1.42"/>
<path d="M 602.2,1302.6 V 1310 M 602.2,1351.6 V 1359.4" fill="none" stroke="#0b0b0b" stroke-width="1.42" />
<path d="M 591.8,1310 H 612" fill="none" stroke="#0b0b0b" stroke-width="1.22" />
<path d="M 591.8,1317.6 H 612" fill="none" stroke="#0b0b0b" stroke-width="1.22" />
<path d="M 591.8,1325.4 H 612" fill="none" stroke="#0b0b0b" stroke-width="1.22" />
<path d="M 591.8,1333 H 612" fill="none" stroke="#0b0b0b" stroke-width="1.22" />
<path d="M 591.8,1340.4 H 612" fill="none" stroke="#0b0b0b" stroke-width="1.22" />
<path d="M 591.8,1347.8 H 612" fill="none" stroke="#0b0b0b" stroke-width="1.22" />
<path d="M 595.8,1314 H 608" fill="none" stroke="#0b0b0b" stroke-width="2.3" stroke-linecap="round"/>
<path d="M 595.8,1321.6 H 608" fill="none" stroke="#0b0b0b" stroke-width="2.3" stroke-linecap="round"/>
<path d="M 595.8,1329.2 H 608" fill="none" stroke="#0b0b0b" stroke-width="2.3" stroke-linecap="round"/>
<path d="M 595.8,1336.7 H 608" fill="none" stroke="#0b0b0b" stroke-width="2.3" stroke-linecap="round"/>
<path d="M 595.8,1344 H 608" fill="none" stroke="#0b0b0b" stroke-width="2.3" stroke-linecap="round"/>
<path d="M 595.8,1351.5 H 608" fill="none" stroke="#0b0b0b" stroke-width="2.3" stroke-linecap="round"/>
<circle cx="602.2" cy="1363.1" r="3.6" fill="#fff" stroke="#0b0b0b" stroke-width="1.42"/>
<path d="M 602.2,1366.8 V 1389.6" fill="none" stroke="#0b0b0b" stroke-width="1.52" />
<path d="M 586.4,1389.7 H 618.2" fill="none" stroke="#0b0b0b" stroke-width="1.92" />
<path d="M 591.8,1395.5 H 612.4" fill="none" stroke="#555" stroke-width="1.12" />
<path d="M 596.9,1400.9 H 607.4" fill="none" stroke="#0b0b0b" stroke-width="1.52" />
<path d="M 675.8,1096.4 H 759.5 V 1261.3 H 675.8 Z" fill="none" stroke="#0b0b0b" stroke-width="1.62" />
<circle cx="709.4" cy="1174.1" r="17.5" fill="none" stroke="#0b0b0b" stroke-width="1.42"/>
<path d="M 701,1158.4 L 717.8,1167.3" fill="none" stroke="#0b0b0b" stroke-width="1.52" />
<path d="M 717.8,1164.4 V 1185" fill="none" stroke="#0b0b0b" stroke-width="2.3" />
<path d="M 717.8,1182.3 L 701,1189.9" fill="none" stroke="#0b0b0b" stroke-width="1.52" />
<path d="M 701.6,1191.4 L 706.2,1183.6 L 709.4,1190 Z" fill="#0b0b0b" stroke="none"/>
<path d="M 718.6,1174.1 H 741 M 741,1168.6 V 1180.4" fill="none" stroke="#0b0b0b" stroke-width="1.52" />
<path d="M 701,1189.8 V 1215" fill="none" stroke="#0b0b0b" stroke-width="1.62" />
<path d="M 690.8,1215.1 H 711.8" fill="none" stroke="#0b0b0b" stroke-width="2.0" />
<path d="M 696.6,1216 L 689.6,1225.4 M 703.4,1216 L 696.2,1225.4 M 710.2,1216 L 703,1225.4" fill="none" stroke="#0b0b0b" stroke-width="1.32" />
<path d="M 766,1143.3 H 924.5" fill="none" stroke="#0b0b0b" stroke-width="1.17" />
<path d="M 759.9,1143.3 L 774.6,1139.3 V 1147.3 Z" fill="#0b0b0b" stroke="none"/>
<path d="M 766,1183.1 H 924.5" fill="none" stroke="#0b0b0b" stroke-width="1.17" />
<path d="M 759.9,1183.1 L 774.6,1179.1 V 1187.1 Z" fill="#0b0b0b" stroke="none"/>
<path d="M 766,1223.4 H 924.5" fill="none" stroke="#0b0b0b" stroke-width="1.17" />
<path d="M 759.9,1223.4 L 774.6,1219.4 V 1227.4 Z" fill="#0b0b0b" stroke="none"/>
<text x="312.2" y="1112.0" font-size="14.35" font-weight="normal" font-family="'Liberation Sans', sans-serif" textLength="127.4" lengthAdjust="spacingAndGlyphs" fill="#0a0a0a"  stroke="#0a0a0a" stroke-width="0.28">Электромагнитный</text>
<text x="312.2" y="1124.8" font-size="14.35" font-weight="normal" font-family="'Liberation Sans', sans-serif" textLength="144.6" lengthAdjust="spacingAndGlyphs" fill="#0a0a0a"  stroke="#0a0a0a" stroke-width="0.28">клапан рециркуляции</text>
<text x="312.2" y="1137.6" font-size="14.35" font-weight="normal" font-family="'Liberation Sans', sans-serif" textLength="134.8" lengthAdjust="spacingAndGlyphs" fill="#0a0a0a"  stroke="#0a0a0a" stroke-width="0.28">отработавших газов</text>
<text x="312.2" y="1150.4" font-size="14.35" font-weight="normal" font-family="'Liberation Sans', sans-serif" textLength="40.6" lengthAdjust="spacingAndGlyphs" fill="#0a0a0a"  stroke="#0a0a0a" stroke-width="0.28">(EGR)</text>
<text x="782.7" y="1134.5" font-size="14.35" font-weight="normal" font-family="'Liberation Sans', sans-serif" textLength="160.0" lengthAdjust="spacingAndGlyphs" fill="#0a0a0a"  stroke="#0a0a0a" stroke-width="0.28">Датчик расхода воздуха</text>
<text x="782.7" y="1159.1" font-size="14.35" font-weight="normal" font-family="'Liberation Sans', sans-serif" textLength="137.8" lengthAdjust="spacingAndGlyphs" fill="#0a0a0a"  stroke="#0a0a0a" stroke-width="0.28">Датчик температуры</text>
<text x="782.7" y="1171.9" font-size="14.35" font-weight="normal" font-family="'Liberation Sans', sans-serif" textLength="162.6" lengthAdjust="spacingAndGlyphs" fill="#0a0a0a"  stroke="#0a0a0a" stroke-width="0.28">охлаждающей жидкости</text>
<text x="784.9" y="1201.4" font-size="14.35" font-weight="normal" font-family="'Liberation Sans', sans-serif" textLength="123.4" lengthAdjust="spacingAndGlyphs" fill="#0a0a0a"  stroke="#0a0a0a" stroke-width="0.28">Датчик положения</text>
<text x="784.9" y="1214.2" font-size="14.35" font-weight="normal" font-family="'Liberation Sans', sans-serif" textLength="116.6" lengthAdjust="spacingAndGlyphs" fill="#0a0a0a"  stroke="#0a0a0a" stroke-width="0.28">коленчатого вала</text>
<text x="489.6" y="1253.6" font-size="14.35" font-weight="normal" font-family="'Liberation Sans', sans-serif" textLength="94.6" lengthAdjust="spacingAndGlyphs" fill="#0a0a0a"  stroke="#0a0a0a" stroke-width="0.28">Управляющее</text>
<text x="489.6" y="1266.4" font-size="14.35" font-weight="normal" font-family="'Liberation Sans', sans-serif" textLength="30.4" lengthAdjust="spacingAndGlyphs" fill="#0a0a0a"  stroke="#0a0a0a" stroke-width="0.28">реле</text>
<text x="467.3" y="1334.9" font-size="14.35" font-weight="normal" font-family="'Liberation Sans', sans-serif" textLength="108.7" lengthAdjust="spacingAndGlyphs" fill="#0a0a0a"  stroke="#0a0a0a" stroke-width="0.28">Аккумуляторная</text>
<text x="467.3" y="1347.3" font-size="14.35" font-weight="normal" font-family="'Liberation Sans', sans-serif" textLength="53.2" lengthAdjust="spacingAndGlyphs" fill="#0a0a0a"  stroke="#0a0a0a" stroke-width="0.28">батарея</text>
<text x="664.9" y="1278.5" font-size="14.35" font-weight="normal" font-family="'Liberation Sans', sans-serif" textLength="124.2" lengthAdjust="spacingAndGlyphs" fill="#0a0a0a"  stroke="#0a0a0a" stroke-width="0.28">Электронный блок</text>
<text x="664.9" y="1291.4" font-size="14.35" font-weight="normal" font-family="'Liberation Sans', sans-serif" textLength="159.6" lengthAdjust="spacingAndGlyphs" fill="#0a0a0a"  stroke="#0a0a0a" stroke-width="0.28">управления двигателем</text>
<text transform="translate(860,1409.7) scale(0.85,1)" font-family="'Liberation Mono', monospace" font-weight="bold" font-size="16.2" letter-spacing="2.65" fill="#0a0a0a">6AF0378</text>
<path d="M 159.2,1273.2 H 154.6 V 1281.4 H 159.2 M 154.6,1277.4 H 162.4" fill="none" stroke="#0b0b0b" stroke-width="1.32" />
<path d="M 178.6,1273.2 H 183.4 V 1281.4 H 178.6 M 175.4,1277.4 H 183.4" fill="none" stroke="#0b0b0b" stroke-width="1.32" />
<path d="M 359.2,1276.4 H 354.4 V 1284.4 H 359.2 M 354.4,1280.4 H 362.4" fill="none" stroke="#0b0b0b" stroke-width="1.32" />
<path d="M 378.3,1276.4 H 382.6 V 1284.4 H 378.3 M 375,1280.4 H 382.6" fill="none" stroke="#0b0b0b" stroke-width="1.32" />
<path d="M 177.3,1229 L 175.2,1226 L 178.7,1225.2 L 181,1229" fill="none" stroke="#0b0b0b" stroke-width="1.32" />
<path d="M 362.4,1231 L 360.2,1227.7 L 363.2,1226.2 L 365.6,1229.6" fill="none" stroke="#0b0b0b" stroke-width="1.32" />
<path d="M 255.5,1165 Q 255.5,1178 243.4,1180.2 M 260.5,1165 Q 261,1182 245.6,1185.2" fill="none" stroke="#0b0b0b" stroke-width="1.42" />
<path d="M 284,1167 Q 284.4,1178.5 294.2,1183.3 M 278.7,1167 Q 278.6,1176 281.4,1180.6" fill="none" stroke="#0b0b0b" stroke-width="1.42" />
<path d="M 271.6,1170 Q 272.4,1178 278.6,1181" fill="none" stroke="#0b0b0b" stroke-width="1.42" />
<path d="M 277.6,1181.4 L 247.7,1204.3 M 280.4,1184.6 L 250.9,1209.4" fill="none" stroke="#0b0b0b" stroke-width="1.42" />
<path d="M 275.1,1189.6 L 291.6,1206.2 M 269.4,1194.1 L 287.8,1212.5" fill="none" stroke="#0b0b0b" stroke-width="1.42" />
<path d="M 281,1182.6 L 294.8,1190.9 M 283.2,1187.4 L 291.6,1194.1 M 286,1186 L 293,1190.4" fill="none" stroke="#0b0b0b" stroke-width="1.22" />
<path d="M 247.7,1204.3 L 251.5,1213.2 H 287.8 L 291.6,1206.2" fill="none" stroke="#0b0b0b" stroke-width="1.42" />
<path d="M 247.7,1204.3 L 234.4,1220.8 M 251.5,1213.2 L 241.4,1220.8" fill="none" stroke="#0b0b0b" stroke-width="1.42" />
<path d="M 291.6,1206.2 L 303,1220.6 M 287.8,1213.2 L 296.7,1220.8" fill="none" stroke="#0b0b0b" stroke-width="1.42" />
<path d="M 254.7,1217 H 281 Q 278,1234.8 267.6,1234.8 Q 258.4,1234.8 254.7,1217 Z" fill="none" stroke="#0b0b0b" stroke-width="1.32" />
<path d="M 256,1219.6 H 273" fill="none" stroke="#0b0b0b" stroke-width="1.22" />
<path d="M 257,1222.4 H 275" fill="none" stroke="#0b0b0b" stroke-width="1.8" />
<path d="M 258.4,1225.8 H 277" fill="none" stroke="#0b0b0b" stroke-width="1.22" />
<path d="M 259.8,1228.6 H 276" fill="none" stroke="#0b0b0b" stroke-width="1.8" />
<path d="M 262,1231.6 H 273.6" fill="none" stroke="#0b0b0b" stroke-width="1.72" />
<path d="M 276.4,1209.6 H 280.8 V 1221.5 H 276.4 Z" fill="#fff" stroke="#0b0b0b" stroke-width="1.52" />
<path d="M 277.2,1209.6 V 1207.6 H 280 V 1209.6 M 280.8,1214 Q 283.4,1216 281.4,1220" fill="none" stroke="#0b0b0b" stroke-width="1.52" />
<g transform="translate(241.8,1173.6) rotate(14)"><path d="M -1.4,-11.6 H 1.4 V -8.4 H 2.8 V -3 H 3.6 V 5 H 2.4 V 10.4 H -2.4 V 5 H -3.6 V -3 H -2.8 V -8.4 H -1.4 Z" fill="#fff" stroke="#0b0b0b" stroke-width="1"/><path d="M -3.4,-2.2 H 3.4 M -3.4,0.6 H 3.4 M -3.4,3.4 H 3.4 M -1.6,-10.4 H 1.6" stroke="#0b0b0b" stroke-width="1.1" fill="none"/></g>
<g transform="translate(296.4,1173.6) rotate(-14)"><path d="M -1.4,-11.6 H 1.4 V -8.4 H 2.8 V -3 H 3.6 V 5 H 2.4 V 10.4 H -2.4 V 5 H -3.6 V -3 H -2.8 V -8.4 H -1.4 Z" fill="#fff" stroke="#0b0b0b" stroke-width="1"/><path d="M -3.4,-2.2 H 3.4 M -3.4,0.6 H 3.4 M -3.4,3.4 H 3.4 M -1.6,-10.4 H 1.6" stroke="#0b0b0b" stroke-width="1.1" fill="none"/></g>
<path d="M 236.8,1184.6 L 233.4,1179 L 228.6,1176.6 L 183,1203 Q 179.4,1206 179.4,1210 V 1216.6 L 181,1222.6" fill="none" stroke="#0b0b0b" stroke-width="1.42" />
<path d="M 236.8,1184.6 L 233.7,1191 L 229.9,1207.5 L 234.4,1220.8" fill="none" stroke="#0b0b0b" stroke-width="1.42" />
<path d="M 302.4,1184.6 L 305.8,1179 L 310.4,1176.6 L 355.6,1203.6 Q 359.6,1206.6 359.6,1211 V 1217 L 357.6,1226" fill="none" stroke="#0b0b0b" stroke-width="1.42" />
<path d="M 302.4,1184.6 L 306.3,1196 L 311.4,1207.5 L 312.4,1219.4" fill="none" stroke="#0b0b0b" stroke-width="1.42" />
<path d="M 227.6,1198.4 Q 224.6,1206 225.6,1213 L 224.6,1219 M 229,1198 Q 230.6,1206 230,1213 L 232,1219.4 M 227.6,1198.4 L 229,1198 M 226.4,1219.6 Q 228.4,1217 231,1219.6" fill="none" stroke="#0b0b0b" stroke-width="1.32" />
<path d="M 310.8,1198.4 Q 313.8,1206 312.8,1213 L 314,1219 M 309.4,1198 Q 307.8,1206 308.4,1213 L 306.4,1219.4 M 310.8,1198.4 L 309.4,1198 M 307.6,1201 L 313.4,1205.6 M 313,1201.4 L 308,1205.6" fill="none" stroke="#0b0b0b" stroke-width="1.32" />
<path d="M 193.4,1217.2 L 203.4,1224 Q 209,1222 213.4,1226.2 Q 208,1228 203.6,1225.6 L 200.6,1226.6 M 194.4,1216.2 L 204.6,1222.8" fill="none" stroke="#0b0b0b" stroke-width="1.32" />
<path d="M 345.6,1217.2 L 335.6,1224 Q 330,1222 325.6,1226.2 Q 331,1228 335.4,1225.6 L 338.4,1226.6 M 344.6,1216.2 L 334.4,1222.8" fill="none" stroke="#0b0b0b" stroke-width="1.32" />
<path d="M 321,1215.6 L 327.4,1220.4 M 324.4,1213 L 330,1217.6" fill="none" stroke="#0b0b0b" stroke-width="1.22" />
<path d="M 196.3,1246.5 L 219.4,1287.4" fill="none" stroke="#0b0b0b" stroke-width="1.42" />
<path d="M 189.6,1241.6 L 207.1,1233.9 L 208.6,1236.8" fill="none" stroke="#0b0b0b" stroke-width="1.42" />
<path d="M 207.7,1239 L 232.5,1284.8" fill="none" stroke="#0b0b0b" stroke-width="1.42" />
<path d="M 241.5,1219.9 L 266.3,1265.1" fill="none" stroke="#0b0b0b" stroke-width="1.42" />
<path d="M 207.7,1239 Q 207.4,1233 213.6,1228.6 Q 220,1222.6 229.6,1221.6 L 241.5,1219.9" fill="none" stroke="#0b0b0b" stroke-width="1.42" />
<path d="M 209,1239.6 L 241.6,1223.8" fill="none" stroke="#0b0b0b" stroke-width="1.42" />
<path d="M 210.9,1243.2 L 243.4,1227.5 M 212.4,1246 L 244.6,1230.5 M 214.1,1249.2 L 246.5,1233.3" fill="none" stroke="#0b0b0b" stroke-width="1.42" />
<circle cx="233.6" cy="1247.3" r="2.3" fill="#fff" stroke="#0b0b0b" stroke-width="1.32"/>
<path d="M 224.9,1267.6 L 229.4,1263.8 Q 231.8,1260 231.3,1256.2 Q 234,1251.4 238.9,1250.8 Q 243,1249.6 246.5,1250.8 Q 248.6,1253.2 250.4,1252.6 L 255.5,1249.8" fill="none" stroke="#0b0b0b" stroke-width="1.42" />
<path d="M 235.7,1255.5 L 248.5,1288 L 241.5,1293.1 L 251,1307.7" fill="none" stroke="#0b0b0b" stroke-width="1.42" />
<path d="M 240.8,1253 L 261.8,1281 L 270.7,1277.6 L 278.8,1291.6" fill="none" stroke="#0b0b0b" stroke-width="1.42" />
<path d="M 342.5,1247 L 318,1287.6" fill="none" stroke="#0b0b0b" stroke-width="1.42" />
<path d="M 346.4,1243.4 L 329.9,1234.4 L 328.6,1237" fill="none" stroke="#0b0b0b" stroke-width="1.42" />
<path d="M 329.9,1240.3 L 305.5,1284.7" fill="none" stroke="#0b0b0b" stroke-width="1.42" />
<path d="M 298.1,1221.8 L 272.2,1264" fill="none" stroke="#0b0b0b" stroke-width="1.42" />
<path d="M 329.9,1240.3 Q 330.6,1234 325,1229.6 Q 318.6,1223.6 309,1222.6 L 298.1,1221.8" fill="none" stroke="#0b0b0b" stroke-width="1.42" />
<path d="M 297.4,1225 L 329.4,1238.6" fill="none" stroke="#0b0b0b" stroke-width="1.42" />
<path d="M 288.8,1238.1 L 323.5,1252.1 M 287,1241 L 321.4,1255.5 M 285.2,1244 L 319.5,1258.8" fill="none" stroke="#0b0b0b" stroke-width="1.42" />
<circle cx="298.5" cy="1257.3" r="2.3" fill="#fff" stroke="#0b0b0b" stroke-width="1.32"/>
<path d="M 275.1,1259.5 Q 277,1262.4 279.6,1262.5 Q 285,1260 289.2,1261 Q 292,1263.4 294.4,1264 L 300.3,1267 Q 302.8,1270 302.5,1274.3 L 307,1278.8" fill="none" stroke="#0b0b0b" stroke-width="1.42" />
<path d="M 289.6,1263 L 274.4,1275.8 L 277.4,1277.3 L 278.8,1281 L 282.5,1279.5 L 294.6,1266" fill="none" stroke="#0b0b0b" stroke-width="1.42" />
<path d="M 277.4,1295.8 L 284.8,1289.1 L 289.2,1294.3 L 281.8,1300.2 Z" fill="#fff" stroke="#0b0b0b" stroke-width="1.42" />
<path d="M 256.2,1300 Q 256.6,1292.6 264,1291.6 Q 268,1290.4 270.6,1293 Q 275,1291.6 277.6,1295.4 L 281.6,1300.4 Q 285.4,1308 282.6,1316 L 284.2,1320.6 L 274.4,1326 L 272.6,1320.8 Q 265,1322.6 260.4,1317.4 L 256.4,1318.4 L 254.6,1313.4 L 251.4,1312.6 L 251.6,1304.6 L 256.2,1303 Z M 256.6,1300 Q 260.6,1295.4 267.4,1296.6" fill="#fff" stroke="#0b0b0b" stroke-width="1.42" />
<path d="M 219.4,1287.4 V 1291.5 Q 215.6,1301 214.6,1311.3 Q 214.4,1316.6 218,1319 L 224.5,1324 L 233.7,1347.9 Q 234.8,1350.6 238,1350.6 H 300.6 Q 303.6,1350.6 304.7,1348.3 L 313.6,1324.6 L 320,1320 Q 323.4,1317.4 323.4,1312.8 Q 321.4,1301 318,1292.1 V 1287.6" fill="none" stroke="#0b0b0b" stroke-width="1.42" />
</g>
</svg>
<div id="topbar"></div>
</body></html>
